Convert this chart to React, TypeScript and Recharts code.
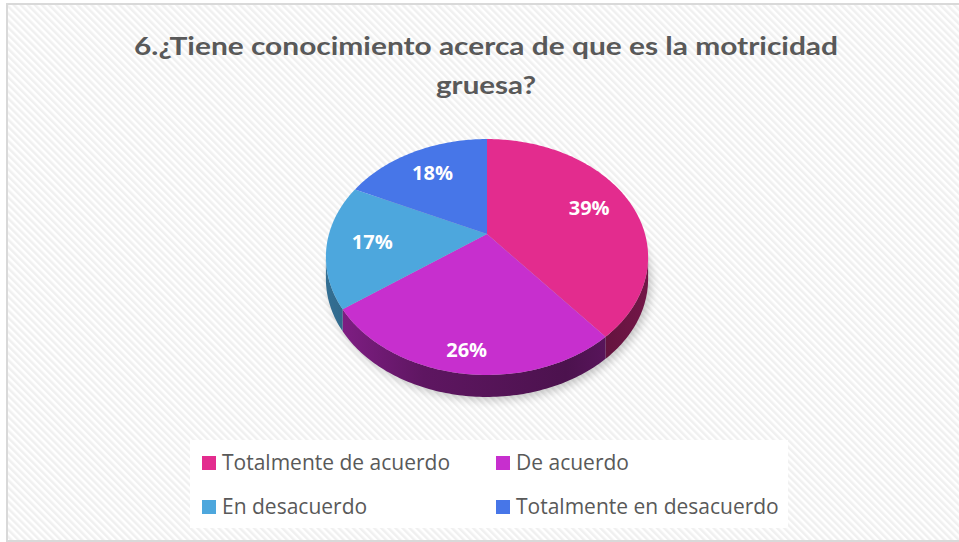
import React from 'react';
import { PieChart, Pie, Legend } from 'recharts';

const TITLE_LINES = ['6.¿Tiene conocimiento acerca de que es la motricidad', 'gruesa?'];
const CATEGORIES = ['Totalmente de acuerdo', 'De acuerdo', 'En desacuerdo', 'Totalmente en desacuerdo'];
const VALUES = [39, 26, 17, 18];
const COLORS = ['#E32C8E', '#C72FCE', '#4DA7DD', '#4776E8'];

const chartData = CATEGORIES.map((name, i) => ({ name, value: VALUES[i], fill: COLORS[i] }));

const WIDTH = 959;
const HEIGHT = 542;
const START_ANGLE = 90;
const TILT = 0.718;
const PERSP = 0.195;
const DEPTH = 22;
const RAD = Math.PI / 180;
const FRONT_LO = -180 + Math.asin(PERSP) / RAD;
const FRONT_HI = -Math.asin(PERSP) / RAD;
const TEXT_GREY = '#595959';

function proj(cx: number, cy: number, r: number, deg: number): [number, number] {
  const u = Math.cos(deg * RAD);
  const v = Math.sin(deg * RAD);
  const d = 1 + PERSP * (r / 158) * v;
  return [cx + (r * u) / d, cy - (r * TILT * v) / d];
}

function projRim(cx: number, cy: number, r: number, deg: number): [number, number] {
  const u = Math.cos(deg * RAD);
  const v = Math.sin(deg * RAD);
  const d = 1 + PERSP * v;
  return [cx + (r * u) / d, cy - (r * TILT * v) / d];
}

function arc(cx: number, cy: number, r: number, a0: number, a1: number): [number, number][] {
  const n = Math.max(2, Math.ceil(Math.abs(a1 - a0)));
  const pts: [number, number][] = [];
  for (let i = 0; i <= n; i++) {
    pts.push(projRim(cx, cy, r, a0 + ((a1 - a0) * i) / n));
  }
  return pts;
}

function shade(hex: string, f: number): string {
  const h = hex.replace('#', '');
  const c = [0, 2, 4].map((k) => Math.round(parseInt(h.slice(k, k + 2), 16) * f));
  return `rgb(${c[0]},${c[1]},${c[2]})`;
}

const fmt = (p: [number, number]) => `${p[0].toFixed(2)},${p[1].toFixed(2)}`;

function Slice3D(props: any) {
  const { cx, cy, outerRadius: r, startAngle, endAngle, fill } = props;
  const lo = Math.min(startAngle, endAngle);
  const hi = Math.max(startAngle, endAngle);
  const gid = `side${String(fill).replace('#', '')}`;
  const walls: string[] = [];
  for (const m of [-1, 0, 1]) {
    const a = Math.max(lo, FRONT_LO + 360 * m);
    const b = Math.min(hi, FRONT_HI + 360 * m);
    if (b > a) {
      const top = arc(cx, cy, r, a, b);
      const bottom = top.map(([x, y]) => [x, y + DEPTH] as [number, number]).reverse();
      walls.push('M' + top.map(fmt).join('L') + 'L' + bottom.map(fmt).join('L') + 'Z');
    }
  }
  const face = 'M' + fmt([cx, cy]) + 'L' + arc(cx, cy, r, startAngle, endAngle).map(fmt).join('L') + 'Z';
  const isFirst = Math.abs(startAngle - START_ANGLE) < 1e-6;
  let shadow: string | null = null;
  if (isFirst) {
    const ring = arc(cx, cy, r, 0, 360).map(([x, y]) => [x + 3, y + DEPTH + 3] as [number, number]);
    shadow = 'M' + ring.map(fmt).join('L') + 'Z';
  }
  return (
    <g>
      <defs>
        <linearGradient id={gid} gradientUnits="userSpaceOnUse" x1={cx - r} y1={0} x2={cx + r} y2={0}>
          <stop offset="0" stopColor={shade(fill, 0.66)} />
          <stop offset="0.3" stopColor={shade(fill, 0.47)} />
          <stop offset="0.75" stopColor={shade(fill, 0.38)} />
          <stop offset="1" stopColor={shade(fill, 0.5)} />
        </linearGradient>
        {isFirst && (
          <filter id="pieShadow" x="-20%" y="-20%" width="140%" height="140%">
            <feGaussianBlur stdDeviation="5" />
          </filter>
        )}
      </defs>
      {shadow && <path d={shadow} fill="#000" opacity={0.22} filter="url(#pieShadow)" />}
      {walls.map((d, i) => (
        <path key={i} d={d} fill={`url(#${gid})`} stroke="none" />
      ))}
      <path d={face} fill={fill} stroke="none" />
    </g>
  );
}

function renderLabel(props: any) {
  const { cx, cy, outerRadius, startAngle, endAngle, percent } = props;
  const mid = (startAngle + endAngle) / 2;
  const s = Math.sin(mid * RAD);
  const f = 0.72 + 0.14 * Math.pow(Math.max(0, -s), 4);
  const [x, y] = proj(cx, cy, outerRadius * f, mid);
  return (
    <text
      x={x}
      y={y}
      fill="#ffffff"
      textAnchor="middle"
      dominantBaseline="central"
      fontFamily="'Open Sans', sans-serif"
      fontWeight={700}
      fontSize={20}
    >
      {`${Math.round(percent * 100)}%`}
    </text>
  );
}

const LEG_COLS = [12, 306];
const LEG_ROWS = [16, 60];

function LegendContent(props: any) {
  const raw = props.payload && props.payload.length ? props.payload : CATEGORIES.map((c, i) => ({ value: c, color: COLORS[i] }));
  const payload = [...raw].sort((a: any, b: any) => CATEGORIES.indexOf(a.value) - CATEGORIES.indexOf(b.value));
  return (
    <svg width={598} height={88} style={{ display: 'block' }}>
      <rect x={0} y={0} width={598} height={88} fill="#ffffff" />
      {payload.map((e: any, i: number) => {
        const x = LEG_COLS[i % 2];
        const y = LEG_ROWS[Math.floor(i / 2)];
        const idx = CATEGORIES.indexOf(e.value);
        return (
          <g key={i}>
            <rect x={x} y={y} width={14} height={14} fill={e.color || COLORS[idx]} />
            <text x={x + 20} y={y + 14} fill={TEXT_GREY} fontFamily="'Open Sans', sans-serif" fontSize={21}>
              {e.value}
            </text>
          </g>
        );
      })}
    </svg>
  );
}

export default function App() {
  return (
    <div style={{ position: 'absolute', left: 0, top: 0, width: WIDTH, height: HEIGHT, overflow: 'hidden', background: '#fff' }}>
      <svg width={WIDTH} height={HEIGHT} style={{ position: 'absolute', left: 0, top: 0 }}>
        <defs>
          <pattern id="hatch" width="5" height="5" patternUnits="userSpaceOnUse" patternTransform="rotate(-45)">
            <rect x="0" y="0" width="5" height="5" fill="#ffffff" />
            <rect x="0" y="0" width="2.5" height="5" fill="#f0f0f0" />
          </pattern>
        </defs>
        <rect x={7} y={4} width={WIDTH} height={HEIGHT - 5} fill="url(#hatch)" stroke="#d9d9d9" strokeWidth={2} />
        <text
          x={486}
          y={54.5}
          textAnchor="middle"
          fill={TEXT_GREY}
          fontFamily="Lato, sans-serif"
          fontWeight={700}
          fontSize={25.5}
          textLength={704}
          lengthAdjust="spacingAndGlyphs"
        >
          {TITLE_LINES[0]}
        </text>
        <text
          x={486}
          y={94.3}
          textAnchor="middle"
          fill={TEXT_GREY}
          fontFamily="Lato, sans-serif"
          fontWeight={700}
          fontSize={25.5}
          textLength={100}
          lengthAdjust="spacingAndGlyphs"
        >
          {TITLE_LINES[1]}
        </text>
      </svg>
      <div style={{ position: 'absolute', left: 0, top: 0 }}>
        <PieChart width={WIDTH} height={HEIGHT} margin={{ top: 0, right: 0, bottom: 0, left: 0 }}>
          <Pie
            data={chartData}
            dataKey="value"
            nameKey="name"
            cx={487}
            cy={234}
            outerRadius={158}
            startAngle={START_ANGLE}
            endAngle={START_ANGLE - 360}
            stroke="none"
            isAnimationActive={false}
            shape={Slice3D}
            label={renderLabel}
            labelLine={false}
          />
          <Legend
            verticalAlign="bottom"
            content={LegendContent}
            wrapperStyle={{ left: 190, top: 440, bottom: 'auto', width: 598, height: 88 }}
          />
        </PieChart>
      </div>
    </div>
  );
}
